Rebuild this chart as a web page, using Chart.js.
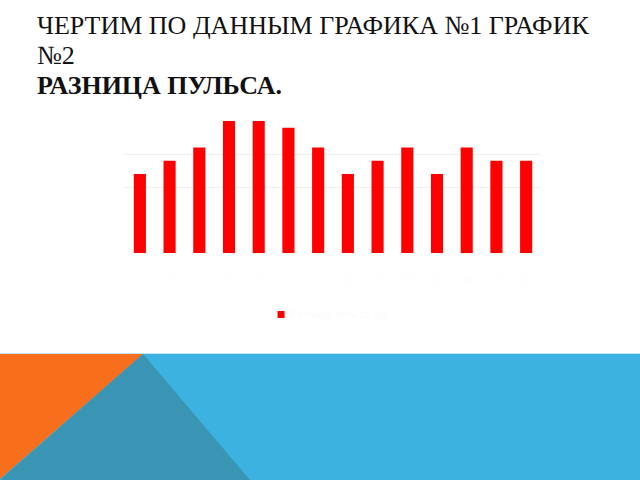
<!DOCTYPE html>
<html>
<head>
<meta charset="utf-8">
<script src="https://cdn.jsdelivr.net/npm/chart.js@4.4.0/dist/chart.umd.min.js"></script>
<style>
  html, body { margin: 0; padding: 0; background: #fff; }
  #slide { position: relative; width: 640px; height: 480px; overflow: hidden; }
  #title {
    position: absolute; left: 37px; top: 11px;
    font-family: "Liberation Serif", "Liberation Sans", serif;
    font-size: 26px; line-height: 30px;
    color: #111;
  }
  #title b { font-weight: bold; }
  #chartBox { position: absolute; left: 0; top: 80px; width: 640px; height: 265px; }
  #deco { position: absolute; left: 0; top: 0; }
</style>
</head>
<body>
<div id="slide">
  <div id="title">ЧЕРТИМ ПО ДАННЫМ ГРАФИКА №1 ГРАФИК<br>№2<br><b>РАЗНИЦА ПУЛЬСА.</b></div>
  <div id="chartBox"><canvas id="chart"></canvas></div>
  <svg id="deco" width="640" height="480">
    <rect x="0" y="353" width="640" height="127" fill="#3bb2df"/>
    <line x1="0" y1="353.5" x2="640" y2="353.5" stroke="#bfe6f5" stroke-width="1"/>
    <polygon points="0,354 143,354 0,479" fill="#f76f1d"/>
    <polygon points="143,354 0,480 250,480" fill="#3a95b5"/>
  </svg>
</div>
<script>
// разница пульса по точкам
const labels = ['1', '2', '3', '4', '5', '6', '7', '8', '9', '10', '11', '12', '13', '14'];
const pulseDiff = [12, 14, 16, 20, 20, 19, 16, 12, 14, 16, 12, 16, 14, 14];
const seriesName = 'Разница пульса уд.';
const yTicks = [0, 5, 10, 15, 20, 25];

new Chart(document.getElementById('chart'), {
  type: 'bar',
  data: {
    labels: labels,
    datasets: [{
      label: seriesName,
      data: pulseDiff,
      backgroundColor: '#ff0000',
      borderWidth: 0,
      barPercentage: 0.51,
      categoryPercentage: 0.8
    }]
  },
  options: {
    responsive: true,
    maintainAspectRatio: false,
    animation: false,
    layout: { padding: { left: 125, right: 99, top: 8, bottom: 15 } },
    plugins: {
      tooltip: { enabled: false },
      legend: {
        position: 'bottom',
        labels: {
          boxWidth: 7, boxHeight: 7,
          color: '#fafafa',
          font: { size: 11, family: 'Liberation Sans' }
        }
      }
    },
    scales: {
      x: {
        grid: { display: false },
        border: { display: false },
        ticks: { color: '#fbfbfb', padding: 14, font: { size: 8 } }
      },
      y: {
        min: yTicks[0],
        max: yTicks[yTicks.length - 1],
        ticks: { display: false, stepSize: 5 },
        border: { display: false },
        grid: {
          drawTicks: false,
          color: ctx => (ctx.tick && (ctx.tick.value === 10 || ctx.tick.value === 15)) ? '#eeeeee' : 'rgba(0,0,0,0)'
        }
      }
    }
  }
});
</script>
</body>
</html>
